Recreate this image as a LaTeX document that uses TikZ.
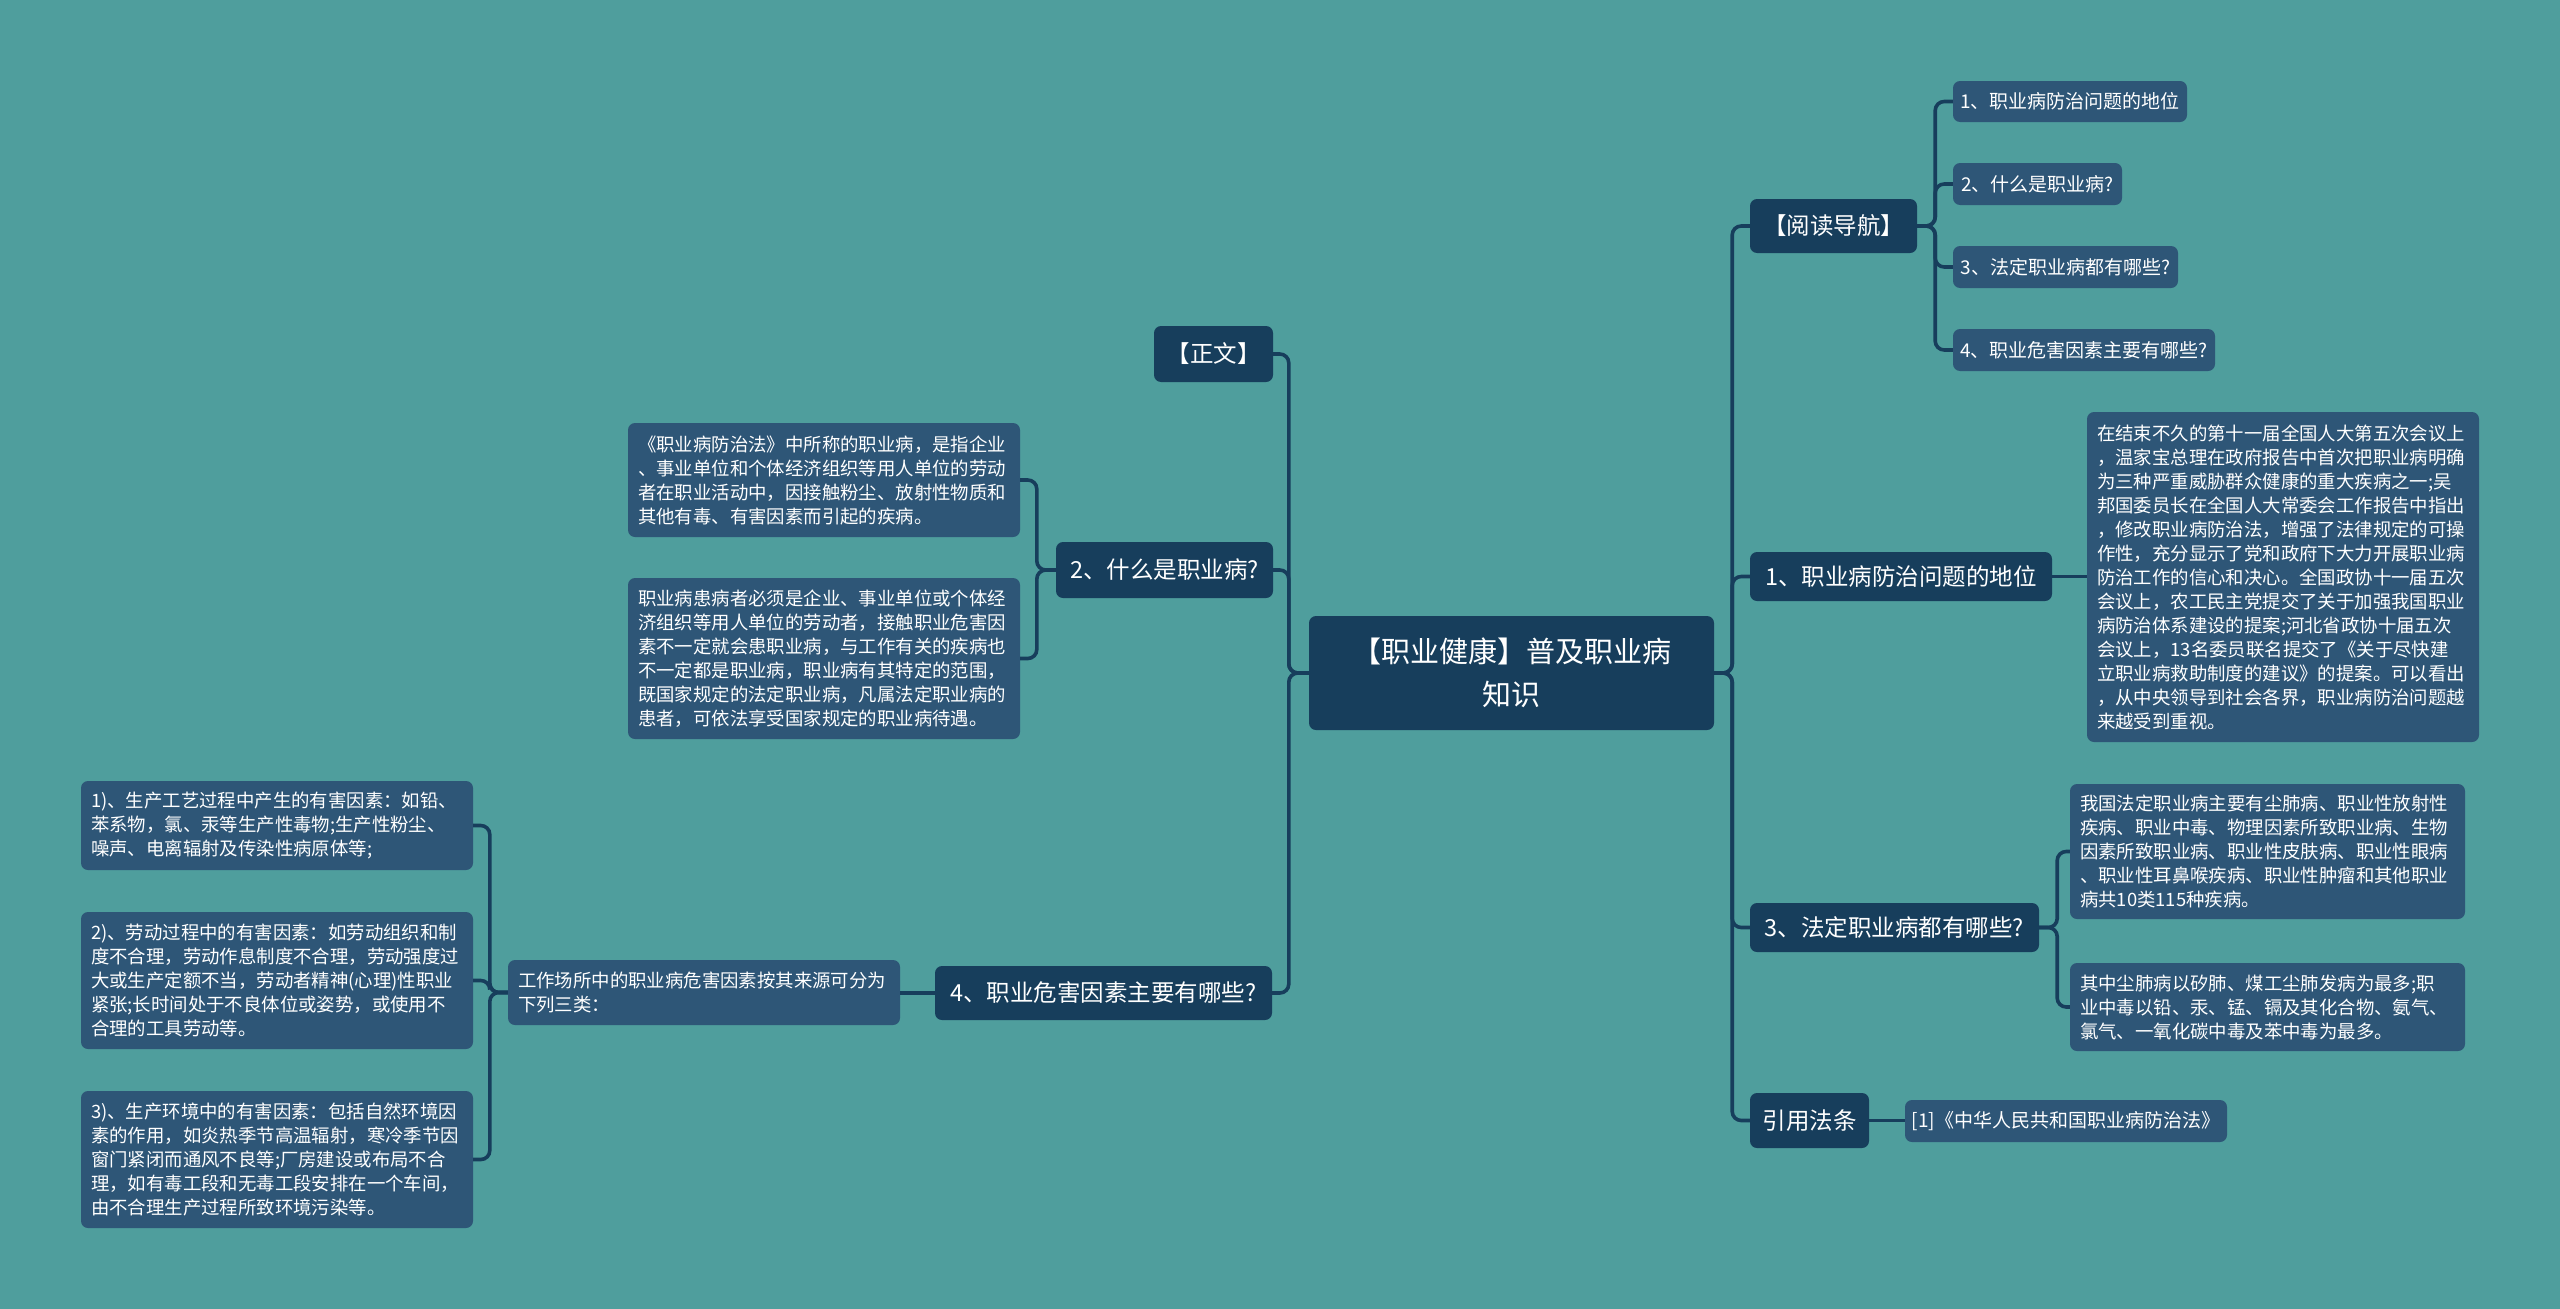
\documentclass[tikz,border=0pt]{standalone}
\usepackage{fontspec}
\setmainfont{Noto Sans CJK SC}
\usetikzlibrary{positioning}
\definecolor{bgc}{HTML}{4F9E9D}
\definecolor{darkc}{HTML}{173E5C}
\definecolor{subc}{HTML}{2E5677}
\definecolor{linec}{HTML}{173E5C}
\tikzset{
  rootbox/.style={fill=darkc, rounded corners=7pt, text=white, inner sep=0pt, align=center,
    font=\fontsize{29}{43}\selectfont},
  mainbox/.style={fill=darkc, rounded corners=7pt, text=white, inner sep=0pt, align=center,
    font=\fontsize{23.5}{30}\selectfont},
  navbox/.style={fill=subc, rounded corners=7pt, text=white, inner sep=0pt, align=left,
    font=\fontsize{19}{24}\selectfont},
  subbox/.style={fill=subc, rounded corners=7pt, text=white, inner xsep=10pt, inner ysep=0pt, align=left,
    font=\fontsize{18.4}{24}\selectfont},
  link/.style={draw=linec, line width=3.6pt, rounded corners=9pt},
}
\begin{document}
\begin{tikzpicture}[x=1pt,y=-1pt]
\path[fill=bgc] (0,0) rectangle (2560,1309);
\useasboundingbox (0,0) rectangle (2560,1309);

% root
\node[rootbox, minimum width=405pt, minimum height=114pt] (root) at (1511.5,673) {【职业健康】普及职业病\\知识};

% left main branches
\node[mainbox, minimum width=119pt, minimum height=56pt] (zw) at (1213.5,354) {【正文】};
\node[mainbox, minimum width=217pt, minimum height=56pt] (b2) at (1164.5,570) {2、什么是职业病?};
\node[mainbox, minimum width=337pt, minimum height=54pt] (b4) at (1103.5,993) {4、职业危害因素主要有哪些?};

% children of 2
\node[subbox, text width=372pt, minimum height=114pt] (b2a) at (824,480) {《职业病防治法》中所称的职业病，是指企业\\、事业单位和个体经济组织等用人单位的劳动\\者在职业活动中，因接触粉尘、放射性物质和\\其他有毒、有害因素而引起的疾病。};
\node[subbox, text width=372pt, minimum height=161pt] (b2b) at (824,658.5) {职业病患病者必须是企业、事业单位或个体经\\济组织等用人单位的劳动者，接触职业危害因\\素不一定就会患职业病，与工作有关的疾病也\\不一定都是职业病，职业病有其特定的范围，\\既国家规定的法定职业病，凡属法定职业病的\\患者，可依法享受国家规定的职业病待遇。};

% children of 4
\node[subbox, text width=372pt, minimum height=65pt] (b4s) at (704,992.5) {工作场所中的职业病危害因素按其来源可分为\\下列三类：};
\node[subbox, text width=372pt, minimum height=89pt] (b4a) at (277,825.5) {1)、生产工艺过程中产生的有害因素：如铅、\\苯系物，氯、汞等生产性毒物;生产性粉尘、\\噪声、电离辐射及传染性病原体等;};
\node[subbox, text width=372pt, minimum height=137pt] (b4b) at (277,980.5) {2)、劳动过程中的有害因素：如劳动组织和制\\度不合理，劳动作息制度不合理，劳动强度过\\大或生产定额不当，劳动者精神(心理)性职业\\紧张;长时间处于不良体位或姿势，或使用不\\合理的工具劳动等。};
\node[subbox, text width=372pt, minimum height=137pt] (b4c) at (277,1159.5) {3)、生产环境中的有害因素：包括自然环境因\\素的作用，如炎热季节高温辐射，寒冷季节因\\窗门紧闭而通风不良等;厂房建设或布局不合\\理，如有毒工段和无毒工段安排在一个车间，\\由不合理生产过程所致环境污染等。};

% right main branches
\node[mainbox, minimum width=167pt, minimum height=54pt] (nav) at (1833.5,226) {【阅读导航】};
\node[mainbox, minimum width=302pt, minimum height=49pt] (r1) at (1901,576.5) {1、职业病防治问题的地位};
\node[mainbox, minimum width=289pt, minimum height=49pt] (r3) at (1894.5,927.5) {3、法定职业病都有哪些?};
\node[mainbox, minimum width=119pt, minimum height=55pt] (cite) at (1809.5,1120.5) {引用法条};

% nav children
\node[navbox, minimum width=234pt, minimum height=41pt] (n1) at (2070,101.5) {1、职业病防治问题的地位};
\node[navbox, minimum width=169pt, minimum height=42pt] (n2) at (2037.5,184) {2、什么是职业病?};
\node[navbox, minimum width=225pt, minimum height=42pt] (n3) at (2065.5,267) {3、法定职业病都有哪些?};
\node[navbox, minimum width=262pt, minimum height=42pt] (n4) at (2084,350) {4、职业危害因素主要有哪些?};

% r1 child
\node[subbox, text width=372pt, minimum height=330pt] (r1a) at (2283,577) {在结束不久的第十一届全国人大第五次会议上\\，温家宝总理在政府报告中首次把职业病明确\\为三种严重威胁群众健康的重大疾病之一;吴\\邦国委员长在全国人大常委会工作报告中指出\\，修改职业病防治法，增强了法律规定的可操\\作性，充分显示了党和政府下大力开展职业病\\防治工作的信心和决心。全国政协十一届五次\\会议上，农工民主党提交了关于加强我国职业\\病防治体系建设的提案;河北省政协十届五次\\会议上，13名委员联名提交了《关于尽快建\\立职业病救助制度的建议》的提案。可以看出\\，从中央领导到社会各界，职业病防治问题越\\来越受到重视。};

% r3 children
\node[subbox, text width=375pt, minimum height=135pt] (r3a) at (2267.5,851.5) {我国法定职业病主要有尘肺病、职业性放射性\\疾病、职业中毒、物理因素所致职业病、生物\\因素所致职业病、职业性皮肤病、职业性眼病\\、职业性耳鼻喉疾病、职业性肿瘤和其他职业\\病共10类115种疾病。};
\node[subbox, text width=375pt, minimum height=88pt] (r3b) at (2267.5,1007) {其中尘肺病以矽肺、煤工尘肺发病为最多;职\\业中毒以铅、汞、锰、镉及其化合物、氨气、\\氯气、一氧化碳中毒及苯中毒为最多。};

% cite child
\node[navbox, minimum width=322pt, minimum height=42pt] (cite1) at (2066,1121) {[1]《中华人民共和国职业病防治法》};

% connectors: root to right
\foreach \t in {nav,r1,r3,cite}
  \draw[link] (root.east) -- ++(18,0) |- (\t.west);
% root to left
\foreach \t in {zw,b2,b4}
  \draw[link] (root.west) -- ++(-20,0) |- (\t.east);
% nav children
\foreach \t in {n1,n2,n3,n4}
  \draw[link] (nav.east) -- ++(18,0) |- (\t.west);
% r1, cite
\draw[link] (r1.east) -- (r1a.west |- r1.east);
\draw[link] (cite.east) -- (cite1.west |- cite.east);
% r3 children
\foreach \t in {r3a,r3b}
  \draw[link] (r3.east) -- ++(18,0) |- (\t.west);
% b2 children
\foreach \t in {b2a,b2b}
  \draw[link] (b2.west) -- ++(-19,0) |- (\t.east);
% b4
\draw[link] (b4.west) -- (b4s.east |- b4.west);
\foreach \t in {b4a,b4b,b4c}
  \draw[link] (b4s.west) -- ++(-18,0) |- (\t.east);
\end{tikzpicture}
\end{document}
